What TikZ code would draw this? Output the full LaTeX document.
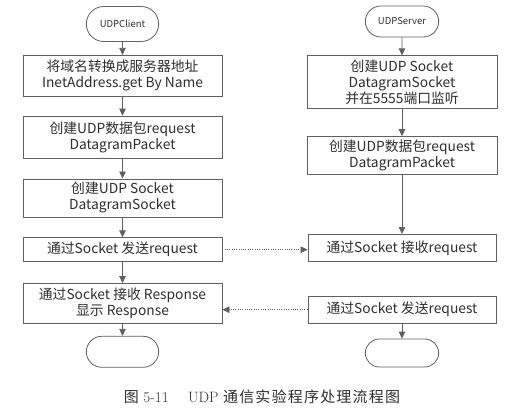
\documentclass[tikz,border=0pt]{standalone}
\usepackage{fontspec}
\newfontfamily\cjk{Noto Sans CJK SC}
\usetikzlibrary{arrows.meta, positioning, shapes.misc}
\definecolor{LineGray}{HTML}{606060}
\definecolor{TextGray}{HTML}{2e2e2e}
\tikzset{
  stepbox/.style={rectangle, draw=LineGray, line width=0.8pt, minimum width=199pt, inner sep=2pt, align=center, text=TextGray, font=\cjk\fontsize{13.8}{16}\selectfont},
  termbox/.style={rounded rectangle, draw=LineGray, line width=0.8pt, minimum width=79pt, minimum height=33pt, font=\cjk\fontsize{9.5}{11}\selectfont, text=TextGray},
  arrow/.style={-{Triangle[length=7pt,width=6.5pt]}, line width=0.8pt, LineGray},
  dotarrow/.style={arrow, dash pattern=on 1pt off 1.3pt}
}

\begin{document}
\begin{tikzpicture}[x=1pt, y=1pt]
  \useasboundingbox (0,0) rectangle (526,-414);

  % client side
  \node[termbox, minimum height=35pt] (cstart) at (122.5,-24) {UDPClient};
  \node[stepbox, minimum height=41pt, below=13pt of cstart] (cname) {将域名转换成服务器地址\\InetAddress.get By Name};
  \node[stepbox, minimum height=42pt, below=19pt of cname] (cpacket) {创建UDP数据包request\\DatagramPacket};
  \node[stepbox, minimum height=38pt, below=20pt of cpacket] (csocket) {创建UDP Socket\\DatagramSocket};
  \node[stepbox, minimum height=24pt, below=20pt of csocket] (csend) {通过Socket 发送request};
  \node[stepbox, minimum height=40pt, below=21pt of csend] (crecv) {通过Socket 接收 Response\\显示 Response};
  \node[termbox, minimum height=31pt, below=12pt of crecv] (cend) {};

  % server side
  \node[termbox, minimum width=80pt, minimum height=31pt] (sstart) at (402,-21.5) {UDPServer};
  \node[stepbox, minimum width=190pt, minimum height=53pt, below=18pt of sstart] (ssocket) {创建UDP Socket\\DatagramSocket\\并在5555端口监听};
  \node[stepbox, minimum width=190pt, minimum height=38pt, below=27pt of ssocket] (spacket) {创建UDP数据包request\\DatagramPacket};
  \node[stepbox, minimum width=188pt, minimum height=27pt, below=59pt of spacket] (srecv) {通过Socket 接收request};
  \node[stepbox, minimum width=188pt, minimum height=27pt, below=34pt of srecv] (ssend) {通过Socket 发送request};
  \node[termbox, minimum width=80pt, minimum height=28pt, below=15pt of ssend] (send) {};

  \draw[arrow] (cstart) -- (cname);
  \draw[arrow] (cname) -- (cpacket);
  \draw[arrow] (cpacket) -- (csocket);
  \draw[arrow] (csocket) -- (csend);
  \draw[arrow] (csend) -- (crecv);
  \draw[arrow] (crecv) -- (cend);

  \draw[arrow] (sstart) -- (ssocket);
  \draw[arrow] (ssocket) -- (spacket);
  \draw[arrow] (spacket) -- (srecv);
  \draw[arrow] (ssend) -- (send);

  \draw[dotarrow] (csend.east) -- (csend.east -| srecv.west);
  \draw[dotarrow] (ssend.west) -- (ssend.west -| crecv.east);

  \node[text=TextGray, font=\fontsize{15}{17}\selectfont] (caption) at (262,-397) {{\cjk 图} 5-11\hspace{1.3em}UDP {\cjk\addfontfeature{LetterSpace=8} 通信实验程序处理流程图}};
\end{tikzpicture}
\end{document}
